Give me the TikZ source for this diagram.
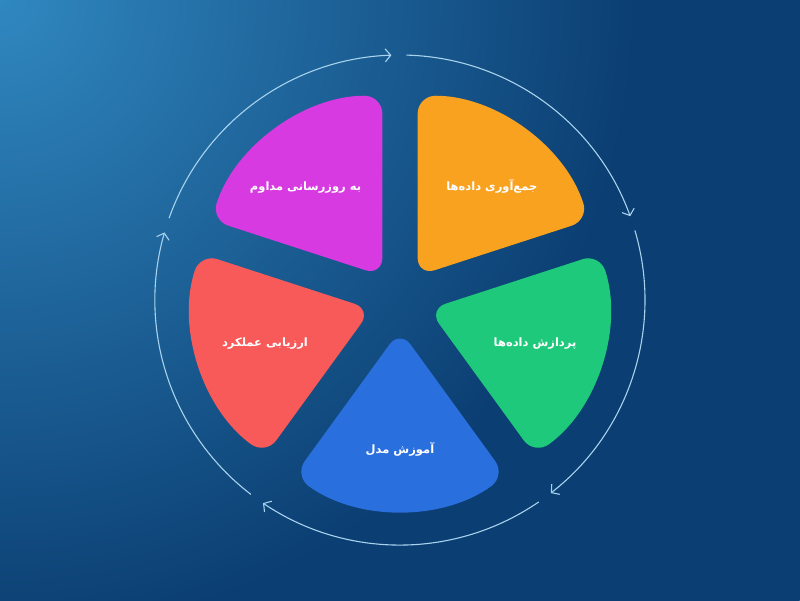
\documentclass[tikz,border=0pt]{standalone}
\usepackage{fontspec}
\newfontfamily\arabicfont[Script=Arabic]{DejaVu Sans}
\TeXXeTstate=1
\usetikzlibrary{arrows.meta}

\definecolor{bgdark}{HTML}{0B3E72}
\definecolor{bglight}{HTML}{3088C0}
\definecolor{ringblue}{HTML}{A8D3EE}
\definecolor{petalorange}{HTML}{F9A220}
\definecolor{petalgreen}{HTML}{1FC97B}
\definecolor{petalblue}{HTML}{2A6FDE}
\definecolor{petalred}{HTML}{F85A5A}
\definecolor{petalmagenta}{HTML}{D63AE0}

\pgfdeclareradialshading{bgglow}{\pgfpoint{0bp}{0bp}}{%
  color(0bp)=(bglight); color(16bp)=(bgdark); color(50bp)=(bgdark)}

\tikzset{
  petal/.style={rounded corners=18pt},
  ring/.style={draw=ringblue, line width=1.1pt, -{Straight Barb[length=5.5pt,width=13pt]}},
  steptext/.style={text=white, font=\arabicfont\bfseries\fontsize{11.5}{13}\selectfont, inner sep=1pt}
}

\begin{document}
\begin{tikzpicture}[x=1pt,y=1pt]
            \useasboundingbox (-400,-300) rectangle (400,300);
            % background
            \fill[bgdark] (-400,-300) rectangle (400,300);
            \begin{scope}
              \clip (-400,-300) rectangle (400,300);
              \shade[shading=bgglow] (-400,300) circle (1000);
            \end{scope}

            \coordinate (o) at (0,0);

            % petals
            \fill[petalorange, petal] (54:30) -- ++(90:180) arc (90:18:180) -- cycle;
            \fill[petalgreen, petal] (-18:30) -- ++(18:180) arc (18:-54:180) -- cycle;
            \fill[petalblue, petal] (-90:30) -- ++(-54:180) arc (-54:-126:180) -- cycle;
            \fill[petalred, petal] (198:30) -- ++(234:180) arc (234:162:180) -- cycle;
            \fill[petalmagenta, petal] (126:30) -- ++(162:180) arc (162:90:180) -- cycle;

            % cycle arrows
            \draw[ring] (88.5:245) arc (88.5:20:245);
            \draw[ring] (16.5:245) arc (16.5:-52:245);
            \draw[ring] (-55.5:245) arc (-55.5:-124:245);
            \draw[ring] (-127.5:245) arc (-127.5:-196:245);
            \draw[ring] (160.5:245) arc (160.5:92:245);

            % labels
            \node[steptext] (collect) at (51:146) {\beginR جمع‌آوری داده‌ها\endR};
            \node[steptext] (process) at (-18:142) {\beginR پردازش داده‌ها\endR};
            \node[steptext] (train) at (-90:149) {\beginR آموزش مدل\endR};
            \node[steptext] (evaluate) at (198:142) {\beginR ارزیابی عملکرد\endR};
            \node[steptext] (update) at (130:147) {\beginR به روزرسانی مداوم\endR};
\end{tikzpicture}
\end{document}
